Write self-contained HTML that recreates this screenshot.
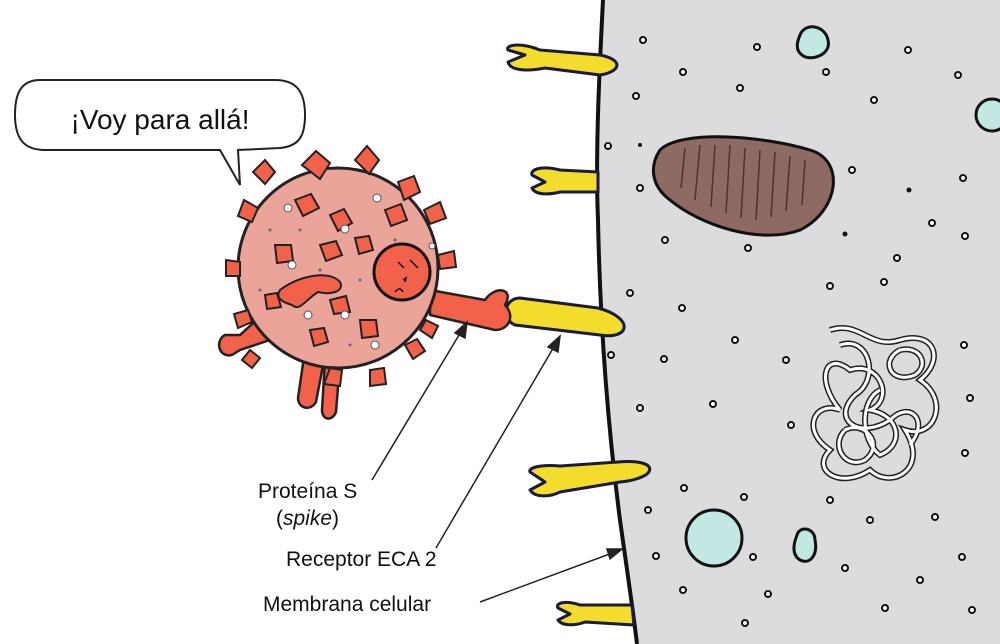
<!DOCTYPE html>
<html><head><style>body{margin:0;background:#fff}svg{display:block}</style></head><body>
<svg width="1000" height="644" viewBox="0 0 1000 644" xmlns="http://www.w3.org/2000/svg" font-family="'Liberation Sans',sans-serif">
<path d="M603,0 C600,60 595,150 598,220 C600,320 607,420 620,520 C627,570 633,610 637,644 L1000,644 L1000,0 Z" fill="#dcdcdf"/>
<path d="M603,0 C600,60 595,150 598,220 C600,320 607,420 620,520 C627,570 633,610 637,644" fill="none" stroke="#111" stroke-width="4"/>
<g fill="#f4dc2c" stroke="#1a1a3a" stroke-width="3" stroke-linejoin="round">
<path d="M600,55 L540,50 C520,42 505,45 508,50 L525,55 L508,62 C510,70 525,72 545,68 L600,75 C620,72 625,60 600,55Z"/>
<path d="M598,172 L560,170 C540,165 530,170 532,175 L545,182 L532,188 C535,195 548,195 560,192 L598,192Z"/>
<path d="M598,308 L520,298 C505,298 500,318 515,325 L600,335 C630,340 635,318 598,308Z"/>
<path d="M618,462 L560,466 C540,464 528,468 530,472 L545,482 L530,490 C535,498 550,497 560,492 L620,482 C660,478 660,458 618,462Z"/>
<path d="M632,605 L580,605 C565,600 555,603 558,608 L570,614 L558,620 C562,626 575,626 585,622 L634,625Z"/>
</g>
<path d="M660,150 C680,130 760,135 810,150 C845,160 840,210 800,230 C760,245 700,225 670,200 C650,185 650,165 660,150Z" fill="#8f6a63" stroke="#111" stroke-width="3"/>
<g stroke="#4a3530" stroke-width="1.5" fill="none">
<path d="M685,148 l-4,40"/><path d="M700,145 l-5,55"/><path d="M715,145 l-4,62"/><path d="M730,145 l-4,68"/><path d="M745,148 l-4,70"/><path d="M760,150 l-4,70"/><path d="M775,152 l-4,65"/><path d="M790,156 l-4,55"/><path d="M805,160 l-3,45"/>
</g>
<g fill="#c2e8e4" stroke="#111" stroke-width="3">
<path d="M800,35 C805,22 825,25 828,40 C832,55 810,62 802,55 C795,50 797,42 800,35Z"/>
<circle cx="714" cy="538" r="28"/>
<path d="M797,535 C800,525 815,528 815,540 C818,555 810,565 800,560 C792,555 793,545 797,535Z"/>
<circle cx="992" cy="115" r="16"/>
</g>
<g id="dna" fill="none">
<path d="M830,330 C860,320 870,350 900,340 C935,330 945,360 920,380 C950,400 935,440 905,430 C930,470 890,490 870,470 C840,490 810,470 830,450 C800,430 815,400 840,410 C815,380 825,350 850,370 C880,360 895,400 870,410 C900,415 905,445 880,455 C860,440 860,400 880,390 M840,345 C870,335 880,380 855,395 C830,420 860,440 890,420 C910,400 930,420 910,445 M900,350 C920,345 930,365 915,375 C890,385 880,360 900,350 M845,430 C865,420 885,445 865,460 C845,470 830,445 845,430"/>
</g>
<use href="#dna" stroke="#222" stroke-width="6"/>
<use href="#dna" stroke="#fff" stroke-width="3"/>
<g fill="#fff" stroke="#111" stroke-width="2">
<circle cx="643" cy="40" r="3"/><circle cx="683" cy="72" r="3"/><circle cx="636" cy="96" r="3"/><circle cx="757" cy="47" r="3"/><circle cx="826" cy="72" r="3"/><circle cx="740" cy="88" r="3"/><circle cx="908" cy="50" r="3"/><circle cx="874" cy="100" r="3"/><circle cx="958" cy="75" r="3"/><circle cx="852" cy="170" r="3"/><circle cx="963" cy="178" r="3"/><circle cx="932" cy="223" r="3"/><circle cx="897" cy="258" r="3"/><circle cx="965" cy="236" r="3"/><circle cx="608" cy="146" r="3"/><circle cx="640" cy="188" r="3"/><circle cx="665" cy="240" r="3"/><circle cx="748" cy="248" r="3"/><circle cx="630" cy="293" r="3"/><circle cx="682" cy="308" r="3"/><circle cx="611" cy="355" r="3"/><circle cx="664" cy="359" r="3"/><circle cx="735" cy="340" r="3"/><circle cx="786" cy="360" r="3"/><circle cx="830" cy="286" r="3"/><circle cx="884" cy="282" r="3"/><circle cx="964" cy="345" r="3"/><circle cx="640" cy="408" r="3"/><circle cx="713" cy="404" r="3"/><circle cx="791" cy="425" r="3"/><circle cx="965" cy="453" r="3"/><circle cx="684" cy="488" r="3"/><circle cx="744" cy="497" r="3"/><circle cx="648" cy="510" r="3"/><circle cx="656" cy="556" r="3"/><circle cx="683" cy="590" r="3"/><circle cx="768" cy="594" r="3"/><circle cx="845" cy="568" r="3"/><circle cx="870" cy="520" r="3"/><circle cx="830" cy="500" r="3"/><circle cx="935" cy="517" r="3"/><circle cx="962" cy="557" r="3"/><circle cx="972" cy="610" r="3"/><circle cx="885" cy="608" r="3"/><circle cx="920" cy="580" r="3"/><circle cx="753" cy="557" r="3"/><circle cx="745" cy="623" r="3"/><circle cx="970" cy="398" r="3"/>
</g>
<g fill="#111"><circle cx="909" cy="190" r="2.5"/><circle cx="845" cy="234" r="2.5"/><circle cx="640" cy="145" r="2"/></g>
<path d="M40,80 C20,80 15,95 15,115 C15,140 25,150 45,150 L220,150 L240,185 L238,150 L280,148 C300,146 305,135 305,115 C305,90 295,80 275,80 Z" fill="#fff" stroke="#222" stroke-width="2"/>
<text x="160" y="129" font-size="28" text-anchor="middle" fill="#111">¡Voy para allá!</text>
<g fill="#f2624a" stroke="#222" stroke-width="2.5" stroke-linejoin="round">
<path d="M430,290 L485,300 C495,285 515,288 505,305 C515,315 510,330 495,330 L430,315Z"/>
<path d="M262,315 L240,335 L225,335 C215,340 218,358 232,355 L240,350 L285,335Z"/>
<path d="M305,350 L298,398 C298,408 310,412 316,402 L325,355Z"/>
<path d="M325,360 L322,410 C322,420 332,422 336,412 L340,362Z"/>
</g>
<circle cx="338" cy="268" r="100" fill="#eba49a" stroke="#222" stroke-width="3"/>
<g fill="#f2624a" stroke="#222" stroke-width="2">
<path d="M302,165 l14,-14 l14,12 l-10,16z"/><path d="M355,160 l12,-14 l12,14 l-10,14z"/><path d="M398,182 l16,-6 l6,16 l-16,8z"/><path d="M424,210 l16,-8 l6,16 l-16,6z"/><path d="M438,255 l16,-4 l2,16 l-16,2z"/><path d="M258,208 l-14,-8 l-6,16 l14,6z"/><path d="M240,262 l-14,-2 l0,16 l14,0z"/><path d="M248,310 l-14,4 l4,14 l14,-6z"/><path d="M330,368 l-6,16 l16,2 l2,-16z"/><path d="M370,370 l0,16 l16,-2 l-2,-16z"/><path d="M405,345 l8,14 l12,-8 l-8,-12z"/><path d="M275,172 l-10,-12 l-12,12 l12,12z"/><path d="M420,330 l12,8 l6,-12 l-12,-6z"/><path d="M250,350 l-8,10 l10,8 l8,-10z"/>
<path d="M295,200 l16,-6 l8,14 l-16,8z"/><path d="M330,215 l14,-6 l8,14 l-14,8z"/><path d="M385,210 l16,-6 l6,16 l-16,6z"/><path d="M275,245 l16,0 l2,16 l-16,2z"/><path d="M320,245 l16,-4 l6,14 l-16,6z"/><path d="M355,238 l14,-2 l4,14 l-14,4z"/><path d="M330,300 l16,-4 l4,16 l-16,2z"/><path d="M360,320 l16,0 l2,16 l-16,2z"/><path d="M310,330 l14,-2 l4,14 l-14,4z"/><path d="M265,295 l12,-2 l4,14 l-14,2z"/>
<path d="M280,290 C300,275 330,270 340,282 C345,292 330,295 318,292 C305,300 300,312 292,305 C282,302 275,298 280,290Z"/>
</g>
<circle cx="402" cy="272" r="28" fill="#f2624a" stroke="#111" stroke-width="3"/>
<g stroke="#111" stroke-width="1.5" fill="none"><path d="M398,262 l6,6"/><path d="M410,260 l8,8"/><path d="M403,280 l3,-2 l-1,4"/><path d="M395,292 c3,-4 6,-4 8,0"/></g>
<g fill="#fff" stroke="#555" stroke-width="1"><circle cx="288" cy="208" r="4"/><circle cx="377" cy="198" r="4"/><circle cx="345" cy="229" r="4"/><circle cx="292" cy="265" r="4"/><circle cx="308" cy="315" r="4"/><circle cx="345" cy="315" r="4"/><circle cx="375" cy="345" r="4"/><circle cx="432" cy="246" r="3"/></g>
<g fill="#667" ><circle cx="270" cy="230" r="1.5"/><circle cx="300" cy="230" r="1.5"/><circle cx="360" cy="280" r="1.5"/><circle cx="320" cy="270" r="1.5"/><circle cx="395" cy="240" r="1.5"/><circle cx="260" cy="290" r="1.5"/><circle cx="350" cy="345" r="1.5"/></g>
<g stroke="#222" stroke-width="1.5" fill="#222">
<line x1="372" y1="480" x2="462" y2="330"/><path d="M467,322 l-2,16 l-10,-5z"/>
<line x1="436" y1="548" x2="555" y2="345"/><path d="M560,336 l-2,16 l-10,-5z"/>
<line x1="480" y1="602" x2="615" y2="552"/><path d="M622,549 l-12,10 l-3,-10z"/>
</g>
<g font-size="21" fill="#111">
<text x="258" y="498">Proteína S</text>
<text x="276" y="525">(<tspan font-style="italic">spike</tspan>)</text>
<text x="286" y="566">Receptor ECA 2</text>
<text x="263" y="611">Membrana celular</text>
</g>
</svg>
</body></html>
